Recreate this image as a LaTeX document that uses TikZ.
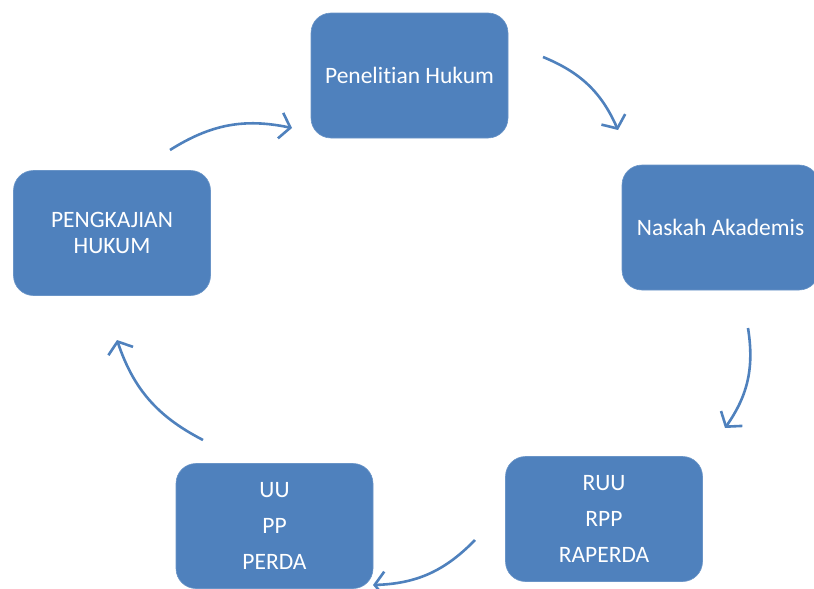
\documentclass[tikz,border=0pt]{standalone}
\usepackage{fontspec}
\setmainfont{Carlito}[Ligatures=NoCommon]
\usepackage{tikz}
\usetikzlibrary{arrows.meta}
\definecolor{officeblue}{RGB}{79, 129, 189}

\begin{document}
\begin{tikzpicture}
  [x=1pt, y=-1pt,
  stage/.style={rectangle, rounded corners=20pt, minimum width=197pt, minimum height=125pt, text centered, align=center, fill=officeblue, draw=officeblue!85!white, line width=.6pt, text=white, font=\fontsize{23.5}{26}\selectfont},
  cycle/.style={draw=officeblue, line width=2.6pt, -{Straight Barb[length=10pt, width=26pt, line width=2.6pt]}, bend left=22}]
  \useasboundingbox (0,0) rectangle (814,589);
  \clip (0,0) rectangle (814,589);

  % stages of the cycle
  \node (penelitian) [stage] at (409.5,75.5) {Penelitian Hukum};
  \node (naskah) [stage] at (720.5,227.5) {Naskah Akademis};
  \node (rancangan) [stage] at (604,519) {RUU\\[10pt]RPP\\[10pt]RAPERDA};
  \node (undang) [stage] at (274.5,526) {UU\\[10pt]PP\\[10pt]PERDA};
  \node (pengkajian) [stage] at (112,233) {PENGKAJIAN\\HUKUM};

  % arrow ends between the stages
  \coordinate (pen-out) at (543,57);
  \coordinate (nas-in) at (618,130);
  \coordinate (nas-out) at (748,328);
  \coordinate (ran-in) at (725,428);
  \coordinate (ran-out) at (475,540);
  \coordinate (und-in) at (373,585);
  \coordinate (und-out) at (203,440);
  \coordinate (kaj-in) at (117,340);
  \coordinate (kaj-out) at (170,150);
  \coordinate (pen-in) at (292,128);

  \draw[cycle] (pen-out) to (nas-in);
  \draw[cycle] (nas-out) to (ran-in);
  \draw[cycle] (ran-out) to (und-in);
  \draw[cycle] (und-out) to (kaj-in);
  \draw[cycle] (kaj-out) to (pen-in);
\end{tikzpicture}
\end{document}
